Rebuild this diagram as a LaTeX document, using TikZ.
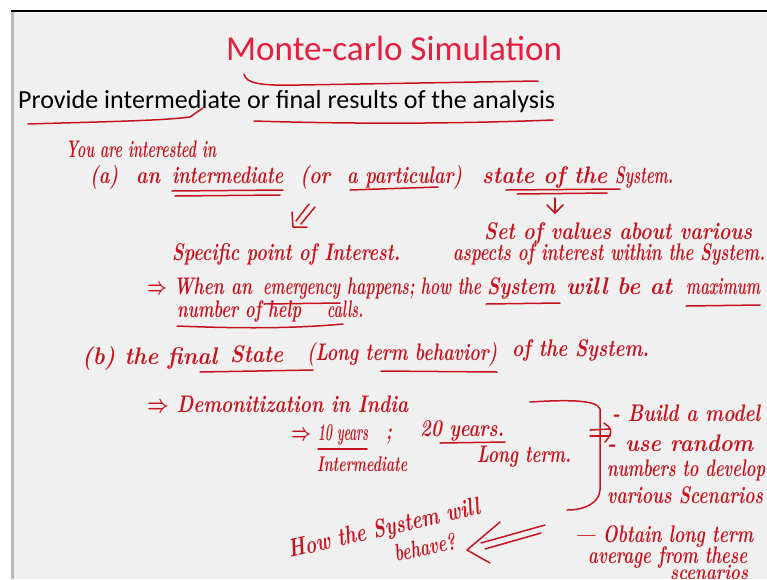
\documentclass[tikz,border=0pt]{standalone}
\usepackage{amsmath}
\usepackage{fontspec}
\newfontfamily\slidefont{Carlito}
\usepackage{graphicx}
\definecolor{hw}{RGB}{198,20,30}
\definecolor{ttl}{RGB}{230,30,64}
\definecolor{bg}{RGB}{240,240,240}
\newcommand\fitw[2]{\resizebox{#1pt}{!}{#2}}
% width-fitted handwriting with a fixed height (height of a parenthesis)
\newcommand\hw[3][18]{\resizebox{#2pt}{#1pt}{\vphantom{(}#3}}
\begin{document}
\begin{tikzpicture}[x=1pt,y=-1pt,
  hwt/.style={text=hw, font=\bfseries\itshape, inner sep=0pt, anchor=base west},
  slide/.style={inner sep=0pt, anchor=base west},
  ink/.style={draw=hw, line width=1.5pt, line cap=round, line join=round}]
\useasboundingbox (0,0) rectangle (767,579);
\fill[white] (0,0) rectangle (767,579);
\fill[bg] (11,11) rectangle (767,579);
\fill[gray!55] (11,11) rectangle (14,579);
\draw[black, line width=1.8pt] (11,11) -- (767,11);

% typed text
\node[slide, text=ttl] (title) at (226,60) {\fitw{336}{\slidefont Monte-carlo Simulation}};
\node[slide] (prov) at (18,108) {\fitw{537}{\slidefont Provide intermediate or final results of the analysis}};
\draw[ink] (244,74) .. controls (246,83) and (258,86) .. (300,85) -- (538,81);
\draw[ink] (28,124) .. controls (90,122) and (160,121) .. (190,117) -- (203,108);
\draw[ink] (254,121) .. controls (350,124) and (450,124) .. (553,120);

% You are interested in
\node[hwt] (l1) at (66,157) {\hw{150}{You are interested in}};

% line (a)
\node[hwt] (a0) at (90,183) {\hw{28}{(a)}};
\node[hwt] (a1) at (136,183) {\hw{24}{an}};
\node[hwt] (a2) at (172,183) {\hw{111}{intermediate}};
\node[hwt] (a3) at (300,183) {\hw{30}{(or}};
\node[hwt] (a4) at (347,183) {\hw{115}{a particular)}};
\node[hwt] (a5) at (482,183) {\hw{125}{state of the}};
\node[hwt] (a6) at (615,183) {\hw{58}{System.}};
\draw[ink] (172,191) -- (283,190);
\draw[ink] (175,196) -- (280,195);
\draw[ink] (350,190) -- (438,187);
\draw[ink] (506,190) -- (620,189);
\draw[ink] (517,194) -- (607,193);

% arrows under (a)
\coordinate (a1tip) at (293,227);
\draw[ink] (309,204) -- (296,221);
\draw[ink] (315,207) -- (301,224);
\draw[ink] (292,212) -- (a1tip) -- (307,227);
\coordinate (a2tip) at (555,213);
\draw[ink] (555,198) -- (a2tip);
\draw[ink] (547,205) -- (a2tip) -- (563,205);

\node[hwt] (l3) at (484,239) {\hw{268}{Set of values about various}};
\node[hwt] (l4) at (172,260) {\hw{228}{Specific point of Interest.}};
\node[hwt] (l5) at (453,260) {\hw{312}{aspects of interest within the System.}};

% when line
\node[hwt] (w1) at (147,294) {\hw{105}{$\boldsymbol\Rightarrow$ When an}};
\node[hwt] (w2) at (263,294) {\hw{77}{emergency}};
\node[hwt] (w3) at (347,294) {\hw{134}{happens; how the}};
\node[hwt] (w4) at (487,294) {\hw{68}{System}};
\node[hwt] (w5) at (566,294) {\hw{106}{will be at}};
\node[hwt] (w6) at (686,294) {\hw{74}{maximum}};
\draw[ink] (264,304) -- (340,303);
\draw[ink] (486,304) -- (560,303);
\draw[ink] (686,306) -- (760,305);
\node[hwt] (n1) at (177,317) {\hw{124}{number of help}};
\node[hwt] (n2) at (327,317) {\hw{36}{calls.}};
\draw[ink] (177,326) .. controls (250,329) and (300,328) .. (343,324);

% line (b), rising slightly to the right
\node[hwt] (b1) at (82,364) {\hw{135}{(b) the final}};
\node[hwt] (b2) at (230,362) {\hw{53}{State}};
\node[hwt] (b3) at (307,360) {\hw{190}{(Long term behavior)}};
\node[hwt] (b4) at (512,356) {\hw{137}{of the System.}};
\draw[ink] (200,372) -- (313,370);
\draw[ink] (381,371) -- (497,372);

\node[hwt] (d1) at (147,412) {\hw{261}{$\boldsymbol\Rightarrow$ Demonitization in India}};
\node[hwt] (y1) at (291,440) {\hw{20}{$\boldsymbol\Rightarrow$}};
\node[hwt] (y2) at (318,440) {\hw{50}{10 years}};
\node[hwt] (y3) at (386,439) {\hw{6}{;}};
\node[hwt] (y4) at (420,436) {\hw{84}{20 years.}};
\draw[ink] (318,449) -- (367,449);
\draw[ink] (440,443) -- (505,442);
\node[hwt] (l11) at (317,471) {\hw[16]{90}{Intermediate}};
\node[hwt] (l12) at (477,462) {\hw{94}{Long term.}};

% bracket
\draw[ink] (530,402) .. controls (562,400) and (597,399) .. (600,409) -- (600,490) .. controls (599,503) and (585,510) .. (567,510);
% implies
\draw[ink] (590,430) -- (610,429);
\draw[ink] (590,436) -- (610,436);
\draw[ink] (604,423) .. controls (610,427) and (615,431) .. (605,442);

\node[hwt] (r1) at (612,421) {\hw{148}{- Build a model}};
\node[hwt] (r2) at (607,451) {\hw{146}{- use random}};
\node[hwt] (r3) at (607,476) {\hw{158}{numbers to develop}};
\node[hwt] (r4) at (607,503) {\hw{156}{various Scenarios}};
\node[hwt] (r5) at (575,542) {\hw{178}{--- Obtain long term}};
\node[hwt] (r6) at (588,563) {\hw{159}{average from these}};
\node[hwt] (r7) at (670,579) {\hw[16]{78}{scenarios}};

% how the system will behave
\node[hwt, rotate=13] (q1) at (290,558) {\hw[19]{196}{How the System will}};
\node[hwt, rotate=12] (q2) at (396,562) {\hw[18]{62}{behave?}};
\coordinate (a3tip) at (467,550);
\draw[ink] (481,543) -- (545,525);
\draw[ink] (485,549) -- (541,533);
\draw[ink] (500,522) -- (a3tip) -- (490,563);
\end{tikzpicture}
\end{document}
